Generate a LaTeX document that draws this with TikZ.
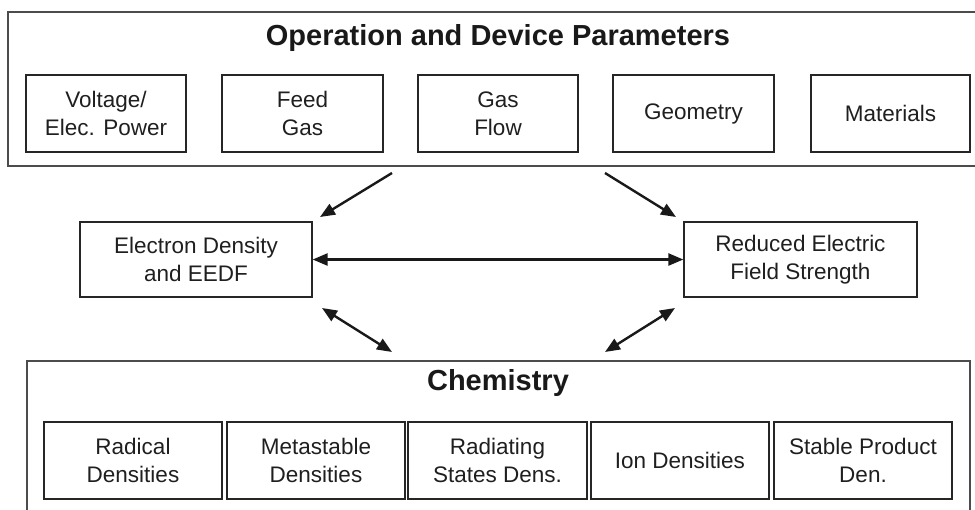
\documentclass[tikz,border=0pt]{standalone}
\usepackage{fontspec}
\setmainfont{Liberation Sans}
\usetikzlibrary{arrows.meta,calc}
\begin{document}
\begin{tikzpicture}[x=1pt,y=-1pt,
  ibox/.style={draw=black!85,line width=1.3pt,align=center,inner sep=0pt,
    font=\fontsize{22.5}{28}\selectfont,text=black!88},
  obox/.style={draw=black!70,line width=1.5pt},
  ttl/.style={font=\fontsize{29}{34}\selectfont\bfseries,text=black!90,inner sep=0pt},
  arr/.style={line width=2.4pt,draw=black!90,-{Triangle[length=15pt,width=12pt]}},
  darr/.style={line width=2.4pt,draw=black!90,{Triangle[length=15pt,width=12pt]}-{Triangle[length=15pt,width=12pt]}}]
\useasboundingbox (0,0) rectangle (975,509);
\clip (0,0) rectangle (975,509);
% outer frames
\draw[obox] (990,12) -- (8,12) -- (8,166) -- (990,166);
\draw[obox] (27,530) -- (27,361) -- (970,361) -- (970,530);
\node[ttl] (ttop) at (498,38) {Operation and Device Parameters};
\node[ttl] (tchem) at (498,383) {Chemistry};
% top row
\node[ibox,minimum width=160,minimum height=77] (volt) at (106,113.5) {Voltage/\\Elec. Power};
\node[ibox,minimum width=161,minimum height=77] (feed) at (302.5,113.5) {Feed\\Gas};
\node[ibox,minimum width=160,minimum height=77] (flow) at (498,113.5) {Gas\\Flow};
\node[ibox,minimum width=161,minimum height=77] (geom) at (693.5,113.5) {Geometry};
\node[ibox,minimum width=159,minimum height=77] (mat) at (890.5,113.5) {Materials};
% middle
\node[ibox,minimum width=232,minimum height=75] (elec) at (196,259.5) {Electron Density\\and EEDF};
\node[ibox,minimum width=233,minimum height=75] (red) at (800.5,259.5) {Reduced Electric\\Field Strength};
% bottom row
\node[ibox,minimum width=178,minimum height=77] (rad) at (133,460.5) {Radical\\Densities};
\node[ibox,minimum width=178,minimum height=77] (meta) at (316,460.5) {Metastable\\Densities};
\node[ibox,minimum width=179,minimum height=77] (radi) at (497.5,460.5) {Radiating\\States Dens.};
\node[ibox,minimum width=178,minimum height=77] (ion) at (680,460.5) {Ion Densities};
\node[ibox,minimum width=178,minimum height=77] (stab) at (863,460.5) {Stable Product\\Den.};
% arrow end points
\coordinate (s1) at (392,173);
\coordinate (e1) at (320,217);
\coordinate (s2) at (605,173);
\coordinate (e2) at (676,217);
\coordinate (b1a) at (322,308);
\coordinate (b1b) at (392,352);
\coordinate (b2a) at (675,308);
\coordinate (b2b) at (605,352);
\draw[arr] (s1) -- (e1);
\draw[arr] (s2) -- (e2);
\draw[darr] (elec.east) -- (red.west);
\draw[darr] (b1a) -- (b1b);
\draw[darr] (b2a) -- (b2b);
\end{tikzpicture}
\end{document}
